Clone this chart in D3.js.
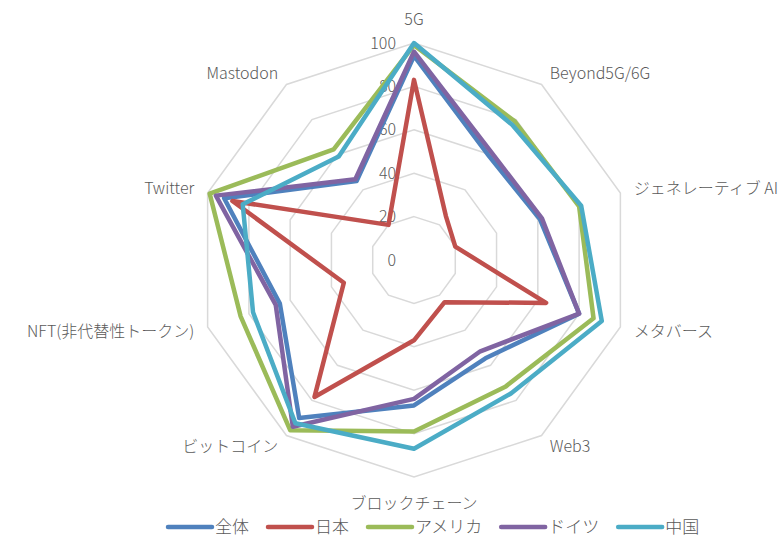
<!DOCTYPE html>
<html>
<head>
<meta charset="utf-8">
<script src="https://cdn.jsdelivr.net/npm/d3@7"></script>
<style>
  body { margin: 0; background: #fff; }
  svg text { font-family: "Noto Sans CJK JP", "Noto Sans", sans-serif; font-weight: 300; fill: #595959; }
</style>
</head>
<body>
<svg id="chart" width="782" height="541"></svg>
<script>
'use strict';

// Axes (clockwise from top)
const axes = ["5G", "Beyond5G/6G", "ジェネレーティブ AI", "メタバース", "Web3",
    "ブロックチェーン", "ビットコイン", "NFT(非代替性トークン)", "Twitter", "Mastodon"];
const ticks = [0, 20, 40, 60, 80, 100];

const seriesNames = ["全体", "日本", "アメリカ", "ドイツ", "中国"];
const seriesColors = ["#4f81bd", "#c0504d", "#9bbb59", "#8064a2", "#4bacc6"];

const zentai  = [94, 59, 61, 80, 56, 67, 90, 65, 92, 45];
const nihon   = [83, 25, 20, 64, 24, 37, 78, 34, 88, 20];
const america = [99, 79, 80, 87, 72, 79, 97, 84, 99, 63];
const germany = [96, 61, 62, 80, 52, 64, 95, 67, 96, 46];
const china   = [100, 77, 81, 91, 76, 87, 93, 78, 83, 59];
const seriesValues = [zentai, nihon, america, germany, china];

function main() {
    const svg = d3.select("#chart");
    const cx = 414, cy = 260, R = 217;
    const n = axes.length;
    const r = d3.scaleLinear().domain([0, 100]).range([0, R]);
    const angle = i => i * 2 * Math.PI / n;

    const g = svg.append("g").attr("transform", `translate(${cx},${cy})`);

    // grid rings
    const ring = d3.lineRadial()
        .angle((d, i) => angle(i))
        .radius(d => r(d))
        .curve(d3.curveLinearClosed);
    g.selectAll(".ring").data(ticks.filter(t => t > 0)).enter().append("path")
        .attr("class", "ring")
        .attr("d", t => ring(axes.map(() => t)))
        .attr("fill", "none")
        .attr("stroke", "#d9d9d9")
        .attr("stroke-width", 1.5);

    // tick labels
    g.selectAll(".tick").data(ticks).enter().append("text")
        .attr("class", "tick")
        .attr("x", -18)
        .attr("y", t => -r(t))
        .attr("dy", "0.35em")
        .attr("text-anchor", "end")
        .style("font-size", "16px")
        .text(t => t);

    // series
    const line = d3.lineRadial()
        .angle((d, i) => angle(i))
        .radius(d => r(d))
        .curve(d3.curveLinearClosed);
    g.selectAll(".series").data(seriesValues).enter().append("path")
        .attr("class", "series")
        .attr("d", d => line(d))
        .attr("fill", "none")
        .attr("stroke", (d, i) => seriesColors[i])
        .attr("stroke-width", 4.5)
        .attr("stroke-linejoin", "round");

    // axis labels
    g.selectAll(".axlabel").data(axes).enter().append("text")
        .attr("class", "axlabel")
        .each(function(d, i) {
            const a = angle(i);
            const s = Math.sin(a), c = Math.cos(a);
            let x = (R + 14) * s, y = -(R + 14) * c;
            let anchor = "middle";
            if (s > 0.1) anchor = "start";
            else if (s < -0.1) anchor = "end";
            if (anchor == "middle") y += c > 0 ? -10 : 12;
            d3.select(this).attr("x", x).attr("y", y)
                .attr("dy", "0.35em")
                .attr("text-anchor", anchor);
        })
        .style("font-size", "16px")
        .text(d => d);

    // legend
    const legend = svg.append("g").attr("transform", "translate(0,527)");
    let x = 168;
    seriesNames.forEach((name, i) => {
        legend.append("line")
            .attr("x1", x).attr("x2", x + 44)
            .attr("y1", 0).attr("y2", 0)
            .attr("stroke", seriesColors[i])
            .attr("stroke-width", 4.5)
            .attr("stroke-linecap", "round");
        const t = legend.append("text")
            .attr("x", x + 47)
            .attr("y", 0)
            .attr("dy", "0.35em")
            .style("font-size", "17px")
            .text(name);
        x += 47 + t.node().getComputedTextLength() + 19;
    });
}

main();
</script>
</body>
</html>
